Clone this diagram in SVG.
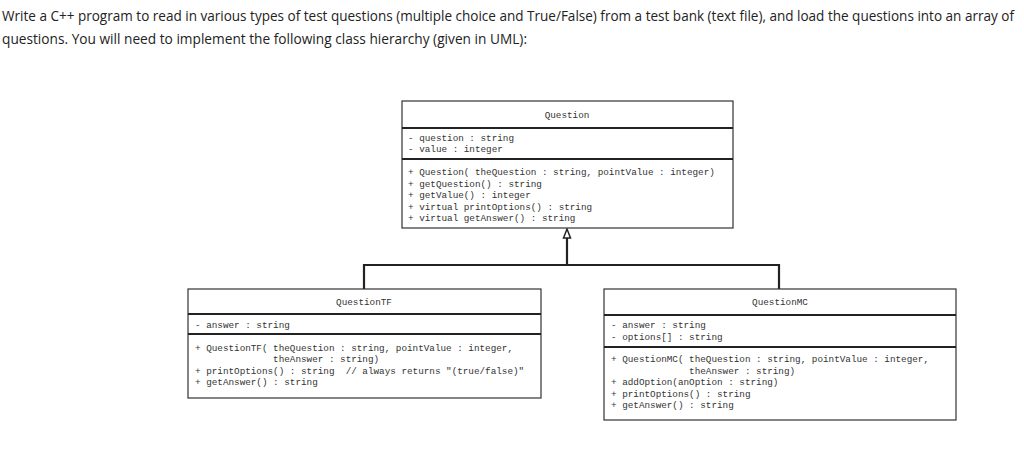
<svg xmlns="http://www.w3.org/2000/svg" width="1024" height="450" viewBox="0 0 1024 450">
<style>
.h{font-family:"Open Sans","Noto Sans",sans-serif;font-size:14px;fill:#222}
.m{font-family:"Liberation Mono","DejaVu Sans Mono",monospace;font-size:9.3px;fill:#333;white-space:pre}
.b{fill:#fff;stroke:#333;stroke-width:1.2}
.d{stroke:#222;stroke-width:2}
.c{stroke:#222;stroke-width:2.2;fill:none}
</style>
<rect width="1024" height="450" fill="#fff"/>
<text class="h" x="2" y="21" textLength="1012" lengthAdjust="spacingAndGlyphs">Write a C++ program to read in various types of test questions (multiple choice and True/False) from a test bank (text file), and load the questions into an array of</text>
<text class="h" x="2" y="44" textLength="525" lengthAdjust="spacingAndGlyphs">questions. You will need to implement the following class hierarchy (given in UML):</text>
<g id="connectors">
<path class="c" d="M567,265 V234 M364,289 V265 H779 V289"/>
<path d="M563.5,238 L567,229 L570.5,238 Z" fill="#fff" stroke="#222" stroke-width="1.5"/>
</g>
<g id="Question">
<rect class="b" x="402" y="101" width="331" height="127"/>
<line class="d" x1="402" y1="128" x2="733" y2="128"/>
<line class="d" x1="402" y1="159" x2="733" y2="159"/>
<text class="m" x="567" y="118" text-anchor="middle">Question</text>
<text class="m" x="408" y="141">- question : string</text>
<text class="m" x="408" y="152">- value : integer</text>
<text class="m" x="408" y="175">+ Question( theQuestion : string, pointValue : integer)</text>
<text class="m" x="408" y="186.5">+ getQuestion() : string</text>
<text class="m" x="408" y="198">+ getValue() : integer</text>
<text class="m" x="408" y="209.5">+ virtual printOptions() : string</text>
<text class="m" x="408" y="221">+ virtual getAnswer() : string</text>
</g>
<g id="QuestionTF">
<rect class="b" x="188" y="289" width="353" height="109"/>
<line class="d" x1="188" y1="314" x2="541" y2="314"/>
<line class="d" x1="188" y1="334" x2="541" y2="334"/>
<text class="m" x="364" y="305" text-anchor="middle">QuestionTF</text>
<text class="m" x="195" y="328">- answer : string</text>
<text class="m" x="195" y="351">+ QuestionTF( theQuestion : string, pointValue : integer,</text>
<text class="m" x="195" y="362">              theAnswer : string)</text>
<text class="m" x="195" y="373.5">+ printOptions() : string  // always returns "(true/false)"</text>
<text class="m" x="195" y="385">+ getAnswer() : string</text>
</g>
<g id="QuestionMC">
<rect class="b" x="604" y="289" width="352" height="131"/>
<line class="d" x1="604" y1="315" x2="956" y2="315"/>
<line class="d" x1="604" y1="347" x2="956" y2="347"/>
<text class="m" x="780" y="305" text-anchor="middle">QuestionMC</text>
<text class="m" x="611" y="328">- answer : string</text>
<text class="m" x="611" y="340">- options[] : string</text>
<text class="m" x="611" y="362">+ QuestionMC( theQuestion : string, pointValue : integer,</text>
<text class="m" x="611" y="373.5">              theAnswer : string)</text>
<text class="m" x="611" y="385">+ addOption(anOption : string)</text>
<text class="m" x="611" y="396.5">+ printOptions() : string</text>
<text class="m" x="611" y="408">+ getAnswer() : string</text>
</g>
</svg>
